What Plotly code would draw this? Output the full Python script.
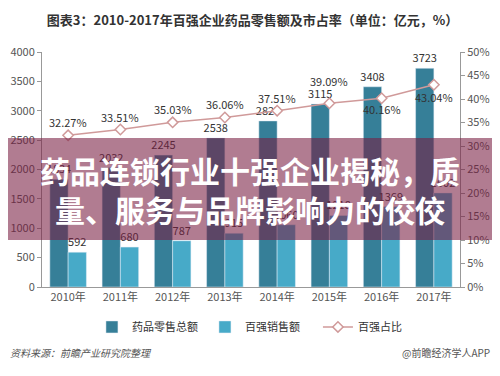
import plotly.graph_objects as go

years = ["2010年", "2011年", "2012年", "2013年", "2014年", "2015年", "2016年", "2017年"]
total_sales = [1834, 2032, 2245, 2538, 2827, 3115, 3408, 3723]
top100_sales = [592, 680, 787, 915, 1060, 1218, 1369, 1602]
top100_share = [32.27, 33.51, 35.03, 36.06, 37.51, 39.09, 40.16, 43.04]
share_label_shift = [13, 13, 13, 14, 13, 22, -11, -12]

FONT = "Noto Sans CJK SC"
C_TOTAL = "#367F98"
C_TOP = "#47AAC8"
C_LINE = "#D09A9A"

fig = go.Figure()
fig.add_trace(go.Bar(
    x=years, y=total_sales, name="药品零售总额", marker_color=C_TOTAL,
    text=total_sales, textposition="outside", cliponaxis=False, constraintext="none",
    textfont=dict(size=11, color="#333333", family=FONT),
))
fig.add_trace(go.Bar(
    x=years, y=top100_sales, name="百强销售额", marker_color=C_TOP,
    text=top100_sales, textposition="outside", cliponaxis=False, constraintext="none",
    textfont=dict(size=11, color="#333333", family=FONT),
))
fig.add_trace(go.Scatter(
    x=years, y=top100_share, name="百强占比", yaxis="y2",
    mode="lines+markers",
    line=dict(color=C_LINE, width=1.5),
    marker=dict(symbol="diamond", size=8, color="white", line=dict(color=C_LINE, width=1.5)),
    cliponaxis=False,
))
for yr, v, s in zip(years, top100_share, share_label_shift):
    fig.add_annotation(x=yr, y=v, xref="x", yref="y2", yshift=s, showarrow=False,
                       text=f"{v:.2f}%", xanchor="center", yanchor="middle",
                       font=dict(size=11, color="#333333", family=FONT))

axis_font = dict(size=11, color="#555555", family=FONT)
# page body adds an 8px offset, so the figure is drawn 8px smaller
fig.update_layout(
    width=492, height=368,
    margin=dict(l=34, r=40, t=44, b=89, pad=0, autoexpand=False),
    paper_bgcolor="white", plot_bgcolor="white",
    font=dict(family=FONT, color="#333333"),
    barmode="group", bargap=0.3, bargroupgap=0,
    showlegend=True,
    legend=dict(orientation="h", x=0.525, xanchor="center", y=-0.17, yanchor="middle",
                font=dict(size=11, color="#333333", family=FONT), itemwidth=30,
                entrywidth=68, entrywidthmode="pixels",
                bgcolor="rgba(0,0,0,0)"),
    title=dict(text="<b>图表3：2010-2017年百强企业药品零售额及市占率（单位：亿元，%）</b>",
               x=0.497, xanchor="center", y=0.967, yanchor="middle",
               font=dict(size=13, color="#333333", family=FONT)),
    xaxis=dict(showline=True, linecolor="#999999", ticks="", tickfont=axis_font,
               showgrid=False, automargin=False),
    yaxis=dict(range=[0, 4000], dtick=500, showline=True, linecolor="#999999",
               ticks="outside", ticklen=4, tickcolor="#999999", tickfont=axis_font,
               showgrid=False, zeroline=False, automargin=False),
    yaxis2=dict(range=[0, 50], dtick=5, ticksuffix="%", overlaying="y", side="right",
                showline=True, linecolor="#999999", ticks="outside", ticklen=4,
                tickcolor="#999999", tickfont=axis_font, showgrid=False, zeroline=False,
                automargin=False),
)

# banner overlay
fig.add_shape(type="rect", xref="paper", yref="paper", x0=-0.2, x1=1.2, y0=0.2, y1=0.634,
              fillcolor="rgba(120,30,65,0.58)", line=dict(width=0), layer="above")
fig.add_annotation(xref="paper", yref="paper", x=0.4976, y=0.417, xanchor="center", yanchor="middle",
                   text="<b>药品连锁行业十强企业揭秘，质<br>量、服务与品牌影响力的佼佼</b>",
                   showarrow=False, align="center",
                   font=dict(size=30, color="white", family=FONT))

fig.add_annotation(xref="paper", yref="paper", x=-0.081, y=-0.2766, xanchor="left", yanchor="middle",
                   text="<i>资料来源：前瞻产业研究院整理</i>", showarrow=False,
                   font=dict(size=10, color="#555555", family=FONT))
fig.add_annotation(xref="paper", yref="paper", x=1.077, y=-0.2766, xanchor="right", yanchor="middle",
                   text="@前瞻经济学人APP", showarrow=False,
                   font=dict(size=10, color="#555555", family=FONT))

fig.write_html("out.html")
